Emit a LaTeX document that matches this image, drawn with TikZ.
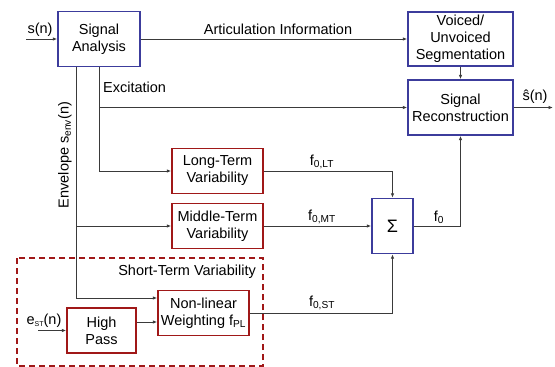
\documentclass[tikz,border=0pt]{standalone}
\usepackage{fontspec}
\setmainfont{Liberation Sans}
\usetikzlibrary{arrows.meta,calc}
\definecolor{bblue}{HTML}{3C3C9C}
\definecolor{bred}{HTML}{A01818}
\definecolor{lgray}{HTML}{3A3A3A}
\begin{document}
\begin{tikzpicture}[x=1pt,y=-1pt,
  font=\fontsize{14.5}{17}\selectfont,
  bluebox/.style={draw=bblue,line width=1.4pt,fill=white,align=center,inner sep=1pt},
  redbox/.style={draw=bred,line width=1.4pt,fill=white,align=center,inner sep=1pt},
  conn/.style={draw=lgray,line width=0.9pt},
  arr/.style={conn,-{Latex[length=4.5pt,width=3.5pt]}},
  lbl/.style={inner sep=0pt,text=black}]
\useasboundingbox (0,0) rectangle (555,367);
\fill[white] (0,0) rectangle (555,367);
% dashed region
\draw[bred,line width=1.2pt,dash pattern=on 6pt off 4pt] (17,258) rectangle (263,366);
\node[lbl,anchor=east] (stv) at (256,272) {Short-Term Variability};
% boxes
\node[bluebox,minimum width=82pt,minimum height=55pt] (sa) at (99,39) {Signal\\Analysis};
\node[bluebox,minimum width=105pt,minimum height=54pt] (vu) at (460.5,39) {Voiced/\\Unvoiced\\Segmentation};
\node[bluebox,minimum width=105pt,minimum height=55pt] (rec) at (460.5,107.5) {Signal\\Reconstruction};
\node[redbox,minimum width=91pt,minimum height=45pt] (lt) at (217.5,171) {Long-Term\\Variability};
\node[redbox,minimum width=91pt,minimum height=45pt] (mt) at (217.5,226) {Middle-Term\\Variability};
\node[bluebox,minimum width=41pt,minimum height=55pt,font=\fontsize{18}{18}\selectfont] (sig) at (392.5,226) {Σ};
\node[redbox,minimum width=91pt,minimum height=45pt] (nl) at (203.5,313) {Non-linear\\Weighting f\textsubscript{PL}};
\node[redbox,minimum width=69pt,minimum height=45pt] (hp) at (101.5,330.5) {High\\Pass};
% free ends
\coordinate (sin) at (26,39);
\coordinate (sout) at (553,107.5);
\coordinate (ein) at (38,330.5);
\coordinate (envtop) at (76,66.5);
\coordinate (nlin) at ([yshift=15pt]nl.west);
\coordinate (hpout) at ([yshift=8.5pt]hp.east);
% connectors
\draw[arr] (sin) -- (sa.west);
\draw[arr] (sa.east) -- (vu.west);
\draw[arr] (vu.south) -- (rec.north);
\draw[arr] (rec.east) -- (sout);
\draw[arr] (sa.south) |- (lt.west);
\draw[arr] (sa.south |- rec.west) -- (rec.west);
\draw[arr] (envtop) |- (nlin);
\draw[arr] (envtop |- mt.west) -- (mt.west);
\draw[arr] (ein) -- (hp.west);
\draw[arr] (hpout) -- (hpout -| nl.west);
\draw[arr] (lt.east) -| (sig.north);
\draw[arr] (mt.east) -- (sig.west);
\draw[arr] (nl.east) -| (sig.south);
\draw[arr] (sig.east) -| (rec.south);
% labels
\node[lbl] (lsn) at (40,30) {s(n)};
\node[lbl] (lart) at (278,29) {Articulation Information};
\node[lbl,anchor=west] (lexc) at (103,87) {Excitation};
\node[lbl] (lshat) at (535,97) {ŝ(n)};
\node[lbl,rotate=90] (lenv) at (65,155) {Envelope s\textsubscript{env}(n)};
\node[lbl] (llt) at (322,162) {f\textsubscript{0,LT}};
\node[lbl] (lmt) at (322,217) {f\textsubscript{0,MT}};
\node[lbl] (lst) at (322,303) {f\textsubscript{0,ST}};
\node[lbl] (lf0) at (439,217) {f\textsubscript{0}};
\node[lbl] (lest) at (44,321) {e\raisebox{-1.5pt}{\fontsize{7}{7}\selectfont ST}(n)};
\end{tikzpicture}
\end{document}
